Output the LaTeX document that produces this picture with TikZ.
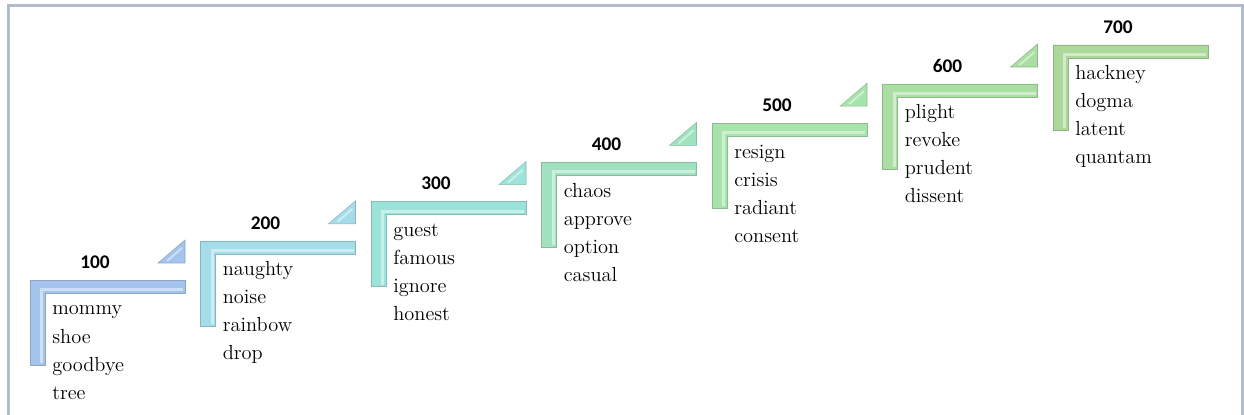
\documentclass[tikz,border=0pt]{standalone}
\usepackage{fontspec}
\newfontfamily\stepfont{Carlito}
\usepackage{xcolor}
\definecolor{frame3}{RGB}{178,188,206}
\definecolor{step1}{RGB}{164,196,238}
\definecolor{step2}{RGB}{164,220,234}
\definecolor{step3}{RGB}{156,228,218}
\definecolor{step4}{RGB}{160,226,192}
\definecolor{step5}{RGB}{166,228,172}
\definecolor{step6}{RGB}{170,222,162}
\definecolor{step7}{RGB}{172,216,154}
\usepackage{tikz}

\begin{document}
\begin{tikzpicture}[x=0.02cm, y=-0.02cm,
    stepnum/.style={font=\stepfont\bfseries\fontsize{11}{13}\selectfont, inner sep=0pt},
    word/.style={font=\rmfamily\fontsize{11.6}{14}\selectfont, inner sep=0pt, anchor=base west}]
  \useasboundingbox (0,0) rectangle (1244,415);

  % Frame: left, top and right sides only
  \draw[frame3, line width=3*0.02cm] (8.5,415) -- (8.5,6) -- (1242,6) -- (1242,415);

  % Steps: L-shaped bar, number above, four words below
  \foreach \lab/\col/\wone/\wtwo/\wthree/\wfour [count=\i from 0] in {
      100/step1/mommy/shoe/goodbye/tree,
      200/step2/naughty/noise/rainbow/drop,
      300/step3/guest/famous/ignore/honest,
      400/step4/chaos/approve/option/casual,
      500/step5/resign/crisis/radiant/consent,
      600/step6/plight/revoke/prudent/dissent,
      700/step7/hackney/dogma/latent/quantam} {
    \pgfmathsetmacro{\xo}{30+170.5*\i}
    \pgfmathsetmacro{\yo}{280-39.2*\i}
    \begin{scope}[shift={(\xo,\yo)}]
      % bar with bevel
      \fill[\col, draw=\col!80!gray!90!black, line width=0.3pt]
        (0,0) -- (155,0) -- (155,13) -- (15,13) -- (15,85) -- (0,85) -- cycle;
      \draw[\col!55!white, line width=3*0.02cm]
        (153,9.5) -- (11.5,9.5) -- (11.5,83);
      % small triangle at the right end
      \ifnum\i<6
        \fill[\col, draw=\col!80!gray!90!black, line width=0.3pt]
          (128,-17) -- (155,-40) -- (155,-17) -- cycle;
        \draw[\col!55!white, line width=2*0.02cm]
          (137,-19) -- (152,-32);
      \fi
      \node[stepnum] (num-\i) at (65,-18) {\lab};
      \node[word] (wa-\i) at (22,35) {\wone};
      \node[word] (wb-\i) at (22,63) {\wtwo};
      \node[word] (wc-\i) at (22,91) {\wthree};
      \node[word] (wd-\i) at (22,119) {\wfour};
    \end{scope}
  }
\end{tikzpicture}
\end{document}
